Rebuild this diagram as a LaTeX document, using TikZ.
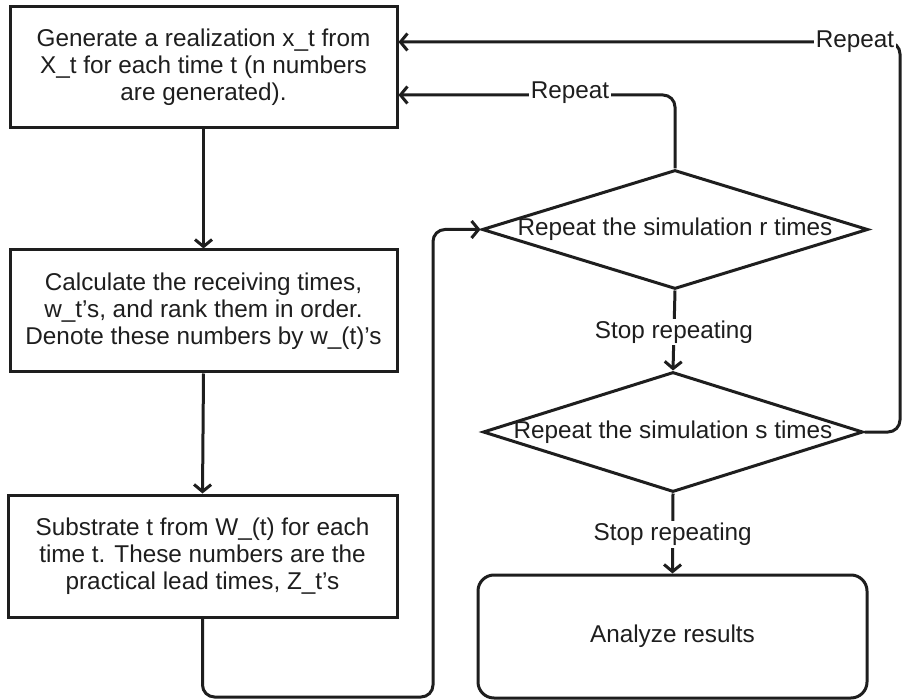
\documentclass[tikz,border=0pt]{standalone}
\usepackage{fontspec}
\setmainfont{Liberation Sans}
\usetikzlibrary{shapes.geometric,arrows.meta}
\definecolor{ink}{HTML}{1E1E1E}
\begin{document}
\begin{tikzpicture}[x=1pt,y=-1pt,
  line width=3pt, draw=ink, text=ink,
  font=\fontsize{24.3}{27}\selectfont,
  arr/.style={-{Straight Barb[length=7pt,width=17pt]}},
  procbox/.style={draw, rectangle, inner sep=0pt, align=center},
  decbox/.style={draw, diamond, inner sep=0pt},
  lbl/.style={fill=white, inner sep=2pt},
  conn/.style={rounded corners=12pt}
]
\useasboundingbox[fill=white] (0,0) rectangle (902,700);

\node[procbox, minimum width=387pt, minimum height=121pt] (b1) at (203.5,67.5)
  {Generate a realization x\_t from\\X\_t for each time t (n numbers\\are generated).};
\node[procbox, minimum width=387pt, minimum height=122pt] (b2) at (203.5,311)
  {Calculate the receiving times,\\w\_t's, and rank them in order.\\Denote these numbers by w\_(t)'s};
\node[procbox, minimum width=389pt, minimum height=122pt] (b3) at (202.5,556)
  {Substrate t from W\_(t) for each\\time t. These numbers are the\\practical lead times, Z\_t's};

\node[decbox, minimum width=386pt, minimum height=119pt] (d1) at (675,229.5) {\makebox[0pt]{}};
\node (t1) at (d1.center) {Repeat the simulation r times};
\node[decbox, minimum width=380pt, minimum height=120pt] (d2) at (673,432) {\makebox[0pt]{}};
\node (t2) at (d2.center) {Repeat the simulation s times};

\node[draw, rectangle, rounded corners=16pt, minimum width=389pt, minimum height=123pt] (b4) at (672.5,636.5) {Analyze results};

\coordinate (c1) at (900,42);
\coordinate (c2) at (673,95);
\coordinate (c3) at (433,697);

% straight flow
\draw[arr] (b1.south) -- (b2.north);
\draw[arr] (b2.south) -- (b3.north);
\draw[arr, conn] (b3.south) |- (c3) |- (d1.west);

\draw[arr] (d1.south) -- node[lbl, pos=0.52] (s1) {Stop repeating} (d2.north);
\draw[arr] (d2.south) -- node[lbl, pos=0.51] (s2) {Stop repeating} (b4.north);

% repeat loops
\draw[arr, conn] (d1.north) |- (b1.east |- c2);
\node[lbl] (r1) at (570,93) {Repeat};
\draw[arr, conn] (d2.east) -| (c1) -- (b1.east |- c1);
\node[lbl] (r2) at (855,42) {Repeat};
\end{tikzpicture}
\end{document}
